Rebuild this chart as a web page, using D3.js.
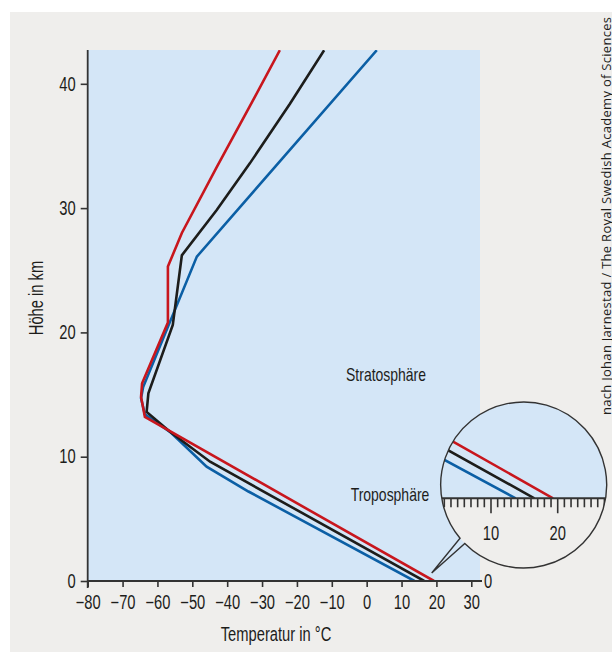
<!DOCTYPE html>
<html>
<head>
<meta charset="utf-8">
<script src="https://cdn.jsdelivr.net/npm/d3@7"></script>
<style>
  body { margin: 0; background: #fff; }
  svg text { font-family: "Liberation Sans", Arial, sans-serif; fill: #1d1d1b; }
</style>
</head>
<body>
<div id="chart"></div>
<script>
// temperature profiles, height in km / temperature in degC
var redZ   = [42.7, 38.2, 33.3, 28.0, 25.3, 20.8, 15.9, 14.8, 13.2, 0];
var redT   = [-24.9, -33.5, -43.0, -53.0, -57.0, -57.0, -64.4, -64.7, -63.6, 19.3];
var blackZ = [42.7, 38.4, 33.6, 29.85, 26.2, 20.6, 15.1, 13.6, 12.0, 9.6, 0];
var blackT = [-12.2, -22.0, -33.5, -43.0, -53.0, -55.6, -62.6, -63.1, -56.4, -44.9, 16.5];
var blueZ  = [42.7, 26.1, 15.6, 14.7, 13.4, 12.0, 9.2, 7.2, 0];
var blueT  = [2.9, -48.7, -64.1, -64.7, -63.6, -56.4, -45.9, -33.9, 13.7];

var xTicks = [-80, -70, -60, -50, -40, -30, -20, -10, 0, 10, 20, 30];
var yTicks = [0, 10, 20, 30, 40];
var insetTicks = d3.range(3, 28);
var insetLabels = [10, 20];

var series = [
  { z: blueZ, t: blueT, color: "#0b5fa5" },
  { z: blackZ, t: blackT, color: "#1d1d1b" },
  { z: redZ, t: redT, color: "#c8161d" }
];

var NARROW = "scale(0.755,1)";
var FS = 19.5;

var W = 612, H = 661;
var svg = d3.select("#chart").append("svg")
    .attr("width", W)
    .attr("height", H);

// narrow text helper (condensed look)
function label(tx, ty, txt, size, anchor, rot) {
    var t = "translate(" + tx + "," + ty + ")" + (rot ? " rotate(" + rot + ")" : "") + " " + NARROW;
    return svg.append("text")
        .attr("transform", t)
        .attr("text-anchor", anchor || "middle")
        .style("font-size", size + "px")
        .text(txt);
}

// grey panel
svg.append("rect")
    .attr("x", 10).attr("y", 12)
    .attr("width", W - 10).attr("height", 640)
    .attr("fill", "#efeeec");

var x = d3.scaleLinear().domain([-80, 32.5]).range([87.7, 480]);
var y = d3.scaleLinear().domain([0, 42.72]).range([581, 50]);

svg.append("rect")
    .attr("x", x(-80)).attr("y", y(42.72))
    .attr("width", x(32.5) - x(-80)).attr("height", y(0) - y(42.72))
    .attr("fill", "#d4e6f7");

svg.append("clipPath").attr("id", "plotclip")
  .append("rect")
    .attr("x", x(-80)).attr("y", y(42.72))
    .attr("width", x(32.5) - x(-80)).attr("height", y(0) - y(42.72));

var line = d3.line()
    .x(function(d) { return x(d[1]); })
    .y(function(d) { return y(d[0]); });

svg.append("g")
    .attr("clip-path", "url(#plotclip)")
    .selectAll("path")
    .data(series)
    .enter().append("path")
    .attr("d", function(s) { return line(d3.zip(s.z, s.t)); })
    .attr("fill", "none")
    .attr("stroke", function(s) { return s.color; })
    .attr("stroke-width", 2.6)
    .attr("stroke-linejoin", "miter");

// axes
var xAxis = svg.append("g")
    .attr("transform", "translate(0," + y(0) + ")")
    .call(d3.axisBottom(x).tickValues(xTicks).tickSize(6).tickPadding(8)
          .tickFormat(function(d) { return d < 0 ? "\u2212" + Math.abs(d) : d; }));
xAxis.select(".domain").remove();
xAxis.selectAll("line").attr("stroke", "#333").attr("stroke-width", 1.6);
xAxis.selectAll("text")
    .attr("transform", NARROW)
    .style("font-size", FS + "px")
    .style("font-family", "'Liberation Sans', Arial, sans-serif")
    .attr("fill", "#1d1d1b");

var yAxis = svg.append("g")
    .attr("transform", "translate(" + x(-80) + ",0)")
    .call(d3.axisLeft(y).tickValues(yTicks).tickSize(7).tickPadding(5));
yAxis.select(".domain").remove();
yAxis.selectAll("line").attr("stroke", "#333").attr("stroke-width", 1.6);
yAxis.selectAll("text")
    .attr("x", null)
    .attr("transform", "translate(-12,0) " + NARROW)
    .style("font-size", FS + "px")
    .style("font-family", "'Liberation Sans', Arial, sans-serif")
    .attr("fill", "#1d1d1b");

svg.append("line")
    .attr("x1", x(-80)).attr("x2", 482)
    .attr("y1", y(0)).attr("y2", y(0))
    .attr("stroke", "#333").attr("stroke-width", 1.8);
svg.append("line")
    .attr("x1", x(-80)).attr("x2", x(-80))
    .attr("y1", y(42.72)).attr("y2", 588)
    .attr("stroke", "#333").attr("stroke-width", 1.8);

label(484, y(0) + 7, "0", FS, "start");
label(276, 641, "Temperatur in \u00b0C", FS);
label(43, 298, "H\u00f6he in km", FS, "middle", -90);
label(386, 381, "Stratosph\u00e4re", 18.5);
label(390, 501, "Troposph\u00e4re", 18.5);

svg.append("text")
    .attr("transform", "translate(611,415) rotate(-90)")
    .style("font-family", "'Open Sans', sans-serif")
    .style("font-size", "13px")
    .attr("textLength", 398)
    .text("nach Johan Jarnestad / The Royal Swedish Academy of Sciences");

// magnifier inset
var cx = 523.7, cy = 485, r = 83;
var mag = 1.913;
var xi = d3.scaleLinear().domain([10, 20]).range([491, 491 + 10 * 3.487 * mag]);
var yi = d3.scaleLinear().domain([0, 1]).range([498.3, 498.3 - 12.43 * mag]);

svg.append("clipPath").attr("id", "circ")
  .append("circle").attr("cx", cx).attr("cy", cy).attr("r", r);
svg.append("clipPath").attr("id", "circtop")
  .append("rect").attr("x", cx - r).attr("y", cy - r)
    .attr("width", 2 * r).attr("height", yi(0) - (cy - r));

var inset = svg.append("g").attr("clip-path", "url(#circ)");
inset.append("rect")
    .attr("x", cx - r).attr("y", cy - r).attr("width", 2 * r).attr("height", 2 * r)
    .attr("fill", "#efeeec");
inset.append("rect")
    .attr("x", cx - r).attr("y", cy - r).attr("width", 2 * r).attr("height", yi(0) - (cy - r))
    .attr("fill", "#d4e6f7");

var iline = d3.line()
    .x(function(d) { return xi(d[1]); })
    .y(function(d) { return yi(d[0]); });
inset.append("g")
    .attr("clip-path", "url(#circtop)")
    .selectAll("path")
    .data(series)
    .enter().append("path")
    .attr("d", function(s) { return iline(d3.zip(s.z, s.t)); })
    .attr("fill", "none")
    .attr("stroke", function(s) { return s.color; })
    .attr("stroke-width", 2.6);

inset.selectAll("line.tk")
    .data(insetTicks)
    .enter().append("line")
    .attr("class", "tk")
    .attr("x1", function(d) { return xi(d); })
    .attr("x2", function(d) { return xi(d); })
    .attr("y1", yi(0))
    .attr("y2", function(d) { return yi(0) + (d % 10 === 0 ? 15 : 9); })
    .attr("stroke", "#333").attr("stroke-width", 1.6);
inset.append("line")
    .attr("x1", cx - r).attr("x2", cx + r)
    .attr("y1", yi(0)).attr("y2", yi(0))
    .attr("stroke", "#333").attr("stroke-width", 2);

insetLabels.forEach(function(d) { label(xi(d), 540, d, FS); });

// outline with pointer
var tip = [431.7, 573];
var a1 = Math.atan2(53.3, -63.7), a2 = Math.atan2(58.3, -58.7);
var p1 = [cx + r * Math.cos(a1), cy + r * Math.sin(a1)];
var p2 = [cx + r * Math.cos(a2), cy + r * Math.sin(a2)];
svg.append("path")
    .attr("d", "M" + p1 + "A" + r + "," + r + " 0 1 1 " + p2 + "L" + tip + "Z")
    .attr("fill", "none")
    .attr("stroke", "#333")
    .attr("stroke-width", 1.4)
    .attr("stroke-linejoin", "miter");
</script>
</body>
</html>
